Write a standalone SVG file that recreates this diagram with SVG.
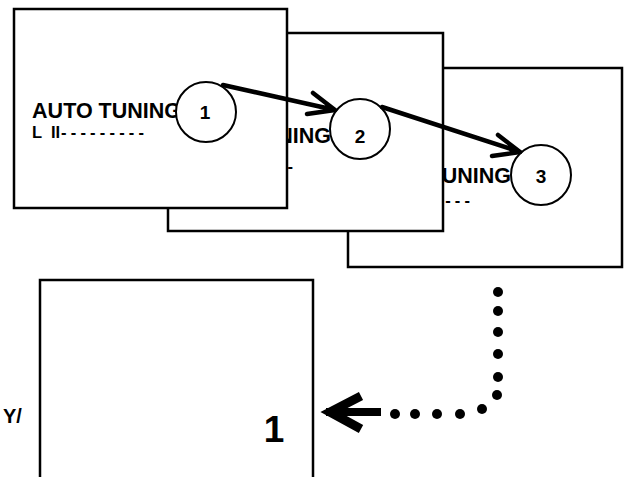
<svg xmlns="http://www.w3.org/2000/svg" width="627" height="477" viewBox="0 0 627 477">
<style>
.box{fill:#fff;stroke:#000;stroke-width:2.5}
.t1{font-family:"Liberation Sans",Arial,sans-serif;font-weight:bold;font-size:21.5px;fill:#000}
.t2{font-family:"Liberation Sans",Arial,sans-serif;font-weight:bold;font-size:16.5px;fill:#000}
.dig{font-family:"Liberation Sans",Arial,sans-serif;font-weight:bold;font-size:19px;fill:#000;text-anchor:middle}
.big{font-family:"Liberation Sans",Arial,sans-serif;font-weight:bold;font-size:37px;fill:#000;text-anchor:middle}
.circ{fill:#fff;stroke:#000;stroke-width:2}
.arr{fill:none;stroke:#000;stroke-width:4.5;stroke-linecap:round;stroke-linejoin:round}
.dot{fill:#000}
</style>
<rect width="627" height="477" fill="#fff"/>
<g id="screen3">
<rect class="box" x="348" y="68" width="274" height="199"/>
<text class="t1" x="511" y="183" text-anchor="end">AUTO TUNING</text>
<text class="t2" y="206"><tspan x="357">L</tspan><tspan x="377">II</tspan><tspan x="387" letter-spacing="4.2">---------</tspan></text>
<circle class="circ" cx="541" cy="175" r="30"/>
<text class="dig" x="541" y="183">3</text>
</g>
<g id="screen2">
<rect class="box" x="168" y="33" width="275" height="198"/>
<text class="t1" x="331" y="143" text-anchor="end">AUTO TUNING</text>
<text class="t2" y="172"><tspan x="180">L</tspan><tspan x="200">II</tspan><tspan x="210" letter-spacing="4.2">---------</tspan></text>
<circle class="circ" cx="360" cy="129" r="30"/>
<text class="dig" x="360" y="143">2</text>
</g>
<g id="screen1">
<rect class="box" x="14" y="9" width="273" height="199"/>
<text class="t1" x="181" y="118" text-anchor="end">AUTO TUNING</text>
<text class="t2" y="137.5"><tspan x="32">L</tspan><tspan x="51">II</tspan><tspan x="61" letter-spacing="4.2">---------</tspan></text>
<circle class="circ" cx="206" cy="112" r="30"/>
<text class="dig" x="205" y="119">1</text>
</g>
<g id="screen4">
<rect class="box" x="40" y="280" width="273" height="210"/>
<text class="big" x="274" y="442">1</text>
</g>
<g id="side-label">
<text x="3" y="423" style="font-family:'Liberation Sans',Arial,sans-serif;font-weight:bold;font-size:20px">Y/</text>
</g>
<g id="connectors">
<path class="arr" d="M223,85 L335,110 M313,93 L335,110 L307,114"/>
<path class="arr" d="M382,107 L520,152 M498,135 L520,152 L492,156"/>
<circle class="dot" cx="498" cy="292" r="5"/>
<circle class="dot" cx="498" cy="311" r="5"/>
<circle class="dot" cx="498" cy="332" r="5"/>
<circle class="dot" cx="498" cy="354" r="5"/>
<circle class="dot" cx="498" cy="377" r="5"/>
<circle class="dot" cx="497" cy="395" r="5"/>
<circle class="dot" cx="482" cy="409" r="5"/>
<circle class="dot" cx="460" cy="414" r="5"/>
<circle class="dot" cx="437" cy="414" r="5"/>
<circle class="dot" cx="415" cy="414" r="5"/>
<circle class="dot" cx="395" cy="414" r="5"/>
<line x1="326" y1="412" x2="381" y2="412" stroke="#000" stroke-width="8"/>
<polyline points="361,396 330,412 361,429" fill="none" stroke="#000" stroke-width="9" stroke-linejoin="miter" stroke-miterlimit="6"/>
</g>
</svg>
